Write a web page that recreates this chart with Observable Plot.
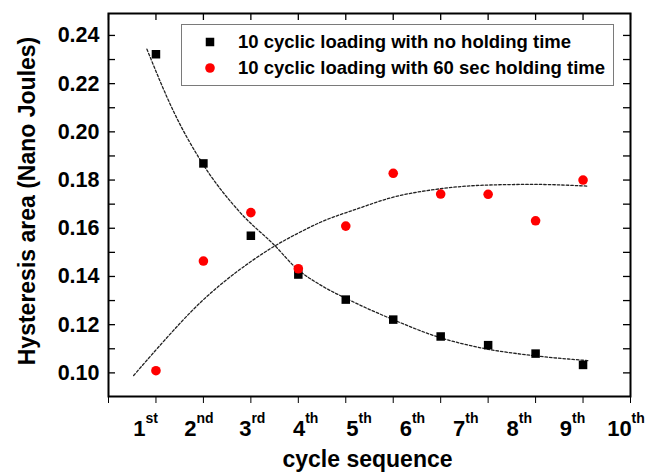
<!DOCTYPE html>
<html>
<head>
<meta charset="utf-8">
<script src="https://cdn.jsdelivr.net/npm/d3@7"></script>
<script src="https://cdn.jsdelivr.net/npm/@observablehq/plot@0.6"></script>
<style>
  body { margin: 0; background: #fff; }
  #wrap { position: relative; width: 653px; height: 473px; overflow: hidden;
          font-family: "Liberation Sans", Arial, sans-serif; font-weight: bold; }
  #wrap svg.chart { position: absolute; left: 0; top: 0; }
  .lg-box { position: absolute; left: 181px; top: 24px; width: 431px; height: 60px;
            border: 1.5px solid #7a7a7a; background: #fff; }
  .lg-mark { position: absolute; }
  .lg-text { position: absolute; left: 238px; height: 24px; line-height: 24px;
             font-size: 18.5px; color: #000; white-space: nowrap; }
</style>
</head>
<body>
<div id="wrap"></div>
<script>
// ---- data ----
const cycles = [1, 2, 3, 4, 5, 6, 7, 8, 9, 10];
const noHolding = [0.2322, 0.1869, 0.1569, 0.1408, 0.1304, 0.1221, 0.1151, 0.1115, 0.1080, 0.1033];
const holding60 = [0.1009, 0.1464, 0.1665, 0.1432, 0.1609, 0.1828, 0.1742, 0.1741, 0.1631, 0.1800];
// dashed fit curves
const fitNoHoldX = [0.81, 1.39, 1.98, 2.79, 3.50, 3.97, 4.48, 5.10, 5.96, 6.96, 7.95, 8.94, 10.10];
const fitNoHoldY = [0.2343, 0.2077, 0.1869, 0.1662, 0.1529, 0.1432, 0.1363, 0.1300, 0.1224, 0.1148, 0.1100, 0.1072, 0.1051];
const fitHoldX = [0.53, 0.99, 1.98, 2.98, 3.50, 3.97, 4.48, 5.25, 5.96, 6.96, 7.95, 8.94, 10.09];
const fitHoldY = [0.0989, 0.1093, 0.1300, 0.1459, 0.1526, 0.1577, 0.1626, 0.1681, 0.1727, 0.1763, 0.1779, 0.1782, 0.1775];
const seriesNames = ["10 cyclic loading with no holding time", "10 cyclic loading with 60 sec holding time"];
const cycleLabels = ["1st", "2nd", "3rd", "4th", "5th", "6th", "7th", "8th", "9th", "10th"];
const xTickValues = [0, 1, 2, 3, 4, 5, 6, 7, 8, 9, 10, 11];
const yTickValues = [0.10, 0.12, 0.14, 0.16, 0.18, 0.20, 0.22, 0.24];
const yMinorValues = [0.10, 0.11, 0.12, 0.13, 0.14, 0.15, 0.16, 0.17, 0.18, 0.19, 0.20, 0.21, 0.22, 0.23, 0.24];
const xTitle = "cycle sequence";
const yTitle = "Hysteresis area (Nano Joules)";

// ---- layout ----
const W = 653, H = 473;
const mL = 108, mR = 23, mT = 13, mB = 77;
const PW = W - mL - mR, PH = H - mT - mB;
const tickLen = 7;
const font = '"Liberation Sans", Arial, sans-serif';

const fitA = fitNoHoldX.map((x, i) => ({x, y: fitNoHoldY[i]}));
const fitB = fitHoldX.map((x, i) => ({x, y: fitHoldY[i]}));
const ptsA = cycles.map((c, i) => ({x: c, y: noHolding[i]}));
const ptsB = cycles.map((c, i) => ({x: c, y: holding60[i]}));
// custom label placement (labels in the original are spread wider than the ticks)
const labelData = cycleLabels.map((t, i) => ({t, x: 0.78 + 1.125 * i}));

const chart = Plot.plot({
  width: W, height: H,
  marginLeft: mL, marginRight: mR, marginTop: mT, marginBottom: mB,
  style: {fontFamily: font, fontWeight: "bold", fontSize: "21.5px", color: "#000", background: "transparent"},
  x: {domain: [0, 11], ticks: xTickValues, tickFormat: () => "", tickSize: tickLen, label: null},
  y: {domain: [0.0902, 0.2491], ticks: yTickValues, tickFormat: d3.format(".2f"), tickSize: 0, tickPadding: 9, label: null},
  marks: [
    Plot.tickY(yMinorValues, {y: d => d, insetRight: PW - tickLen, stroke: "#000", strokeWidth: 1.3}),
    Plot.tickY(yMinorValues, {y: d => d, insetLeft: PW - tickLen, stroke: "#000", strokeWidth: 1.3}),
    Plot.tickX(xTickValues, {x: d => d, insetBottom: PH - tickLen, stroke: "#000", strokeWidth: 1.3}),
    Plot.line(fitA, {x: "x", y: "y", curve: "monotone-x", stroke: "#222", strokeWidth: 1.3, strokeDasharray: "2.5,2"}),
    Plot.line(fitB, {x: "x", y: "y", curve: "monotone-x", stroke: "#222", strokeWidth: 1.3, strokeDasharray: "2.5,2"}),
    Plot.dot(ptsA, {x: "x", y: "y", symbol: "square", r: 4.8, fill: "#000", stroke: "none"}),
    Plot.dot(ptsB, {x: "x", y: "y", symbol: "circle", r: 4.8, fill: "#ff0000", stroke: "none"}),
    Plot.frame({stroke: "#000", strokeWidth: 2}),
    Plot.text(labelData, {x: "x", text: "t", frameAnchor: "bottom", lineAnchor: "middle", dy: 32, fontSize: 22, fontWeight: "bold", fill: "#000"}),
    Plot.text([xTitle], {frameAnchor: "bottom", lineAnchor: "middle", dx: -2, dy: 63, fontSize: 23, fontWeight: "bold", fill: "#000"}),
    Plot.text([yTitle], {frameAnchor: "left", textAnchor: "middle", lineAnchor: "middle", rotate: -90, dx: -81, dy: -4, fontSize: 23, fontWeight: "bold", fill: "#000"})
  ]
});
chart.classList.add("chart");

// superscript ordinal suffixes
d3.select(chart).selectAll("text").each(function() {
  const s = this.textContent;
  const m = /^(\d+)(st|nd|rd|th)$/.exec(s);
  if (!m) return;
  const t = d3.select(this);
  t.text(null);
  t.append("tspan").text(m[1]);
  t.append("tspan").attr("font-size", 14).attr("dy", -12.5).text(m[2]);
});

const wrap = document.getElementById("wrap");
wrap.appendChild(chart);

// legend
const box = document.createElement("div");
box.className = "lg-box";
wrap.appendChild(box);
const rows = [42, 68];
seriesNames.forEach((name, i) => {
  const mk = document.createElementNS("http://www.w3.org/2000/svg", "svg");
  mk.setAttribute("width", 12); mk.setAttribute("height", 12);
  mk.setAttribute("class", "lg-mark");
  mk.style.left = (210 - 6) + "px";
  mk.style.top = (rows[i] - 6) + "px";
  mk.innerHTML = i === 0
    ? '<rect x="1.75" y="1.75" width="8.5" height="8.5" fill="#000"/>'
    : '<circle cx="6" cy="6" r="4.8" fill="#ff0000"/>';
  wrap.appendChild(mk);
  const tx = document.createElement("div");
  tx.className = "lg-text";
  tx.style.top = (rows[i] - 12) + "px";
  tx.textContent = name;
  wrap.appendChild(tx);
});
</script>
</body>
</html>
